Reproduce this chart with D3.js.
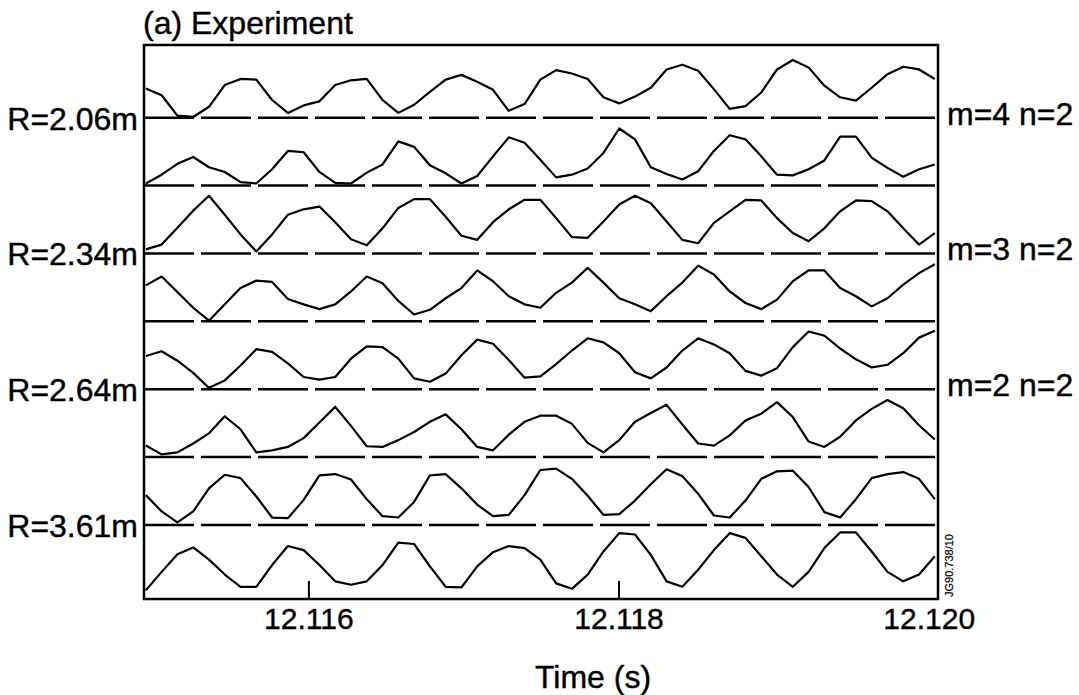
<!DOCTYPE html>
<html>
<head>
<meta charset="utf-8">
<script src="https://cdn.jsdelivr.net/npm/d3@7"></script>
<style>
    body { margin: 0; background: #fff; }
    text { font-family: "Liberation Sans", Arial, Helvetica, sans-serif; fill: #000; stroke: #000; stroke-width: 0.4px; }
</style>
</head>
<body>
<div class="chart"></div>
<script>
// signals, one value per sample (height above the row's baseline, a.u.)
var trace1 = [4.3, 3.3, 0.3, 0.1, 1.6, 4.8, 5.7, 5.6, 2.6, 0.7, 1.8, 2.4, 4.8, 5.5, 5.7, 2.6, 0.7, 1.9, 3.8, 5.6, 6.3, 5.3, 4.1, 1.0, 2.0, 5.6,
              7.0, 6.5, 5.7, 3.0, 2.1, 3.1, 4.4, 7.1, 7.8, 6.9, 4.2, 1.3, 1.7, 3.7, 7.1, 8.5, 7.4, 4.7, 3.0, 2.5, 4.4, 6.4, 7.5, 7.1, 5.7];
var trace2 = [0.3, 1.6, 3.2, 4.2, 2.7, 2.0, 0.5, 0.3, 2.4, 5.1, 4.9, 2.0, 0.4, 0.3, 1.9, 3.1, 6.5, 5.7, 3.0, 1.8, 0.3, 1.4, 4.3, 7.1, 6.3, 3.8,
              1.2, 1.6, 2.5, 4.8, 8.4, 6.8, 2.7, 1.7, 0.9, 2.1, 5.1, 7.4, 6.8, 4.3, 1.6, 1.5, 2.4, 3.7, 7.2, 7.2, 4.1, 2.6, 1.3, 2.4, 3.1];
var trace3 = [0.6, 1.3, 3.8, 6.3, 8.5, 5.7, 2.8, 0.3, 2.8, 5.7, 6.5, 6.9, 4.6, 2.1, 1.2, 3.7, 6.7, 8.0, 8.0, 5.4, 2.6, 2.0, 4.6, 6.5, 7.9, 7.9,
              5.2, 2.4, 2.3, 4.7, 7.2, 8.5, 7.4, 4.7, 2.0, 1.5, 4.5, 6.2, 7.9, 7.8, 5.2, 3.0, 1.8, 3.7, 6.2, 7.8, 7.7, 6.2, 3.7, 1.3, 3.0];
var trace4 = [5.3, 6.6, 4.3, 2.0, 0.1, 2.5, 4.9, 6.0, 5.8, 3.3, 2.5, 1.8, 2.5, 4.4, 6.6, 5.6, 3.0, 1.0, 1.7, 3.4, 4.9, 7.5, 5.9, 3.7, 2.5, 2.0,
              4.2, 5.7, 7.9, 5.7, 3.4, 2.5, 1.5, 3.7, 5.7, 8.2, 6.9, 4.4, 2.7, 1.8, 3.2, 5.9, 7.5, 7.5, 4.9, 3.7, 2.2, 3.4, 5.4, 7.1, 8.4];
var trace5 = [4.9, 5.6, 4.2, 2.4, 0.2, 1.3, 3.5, 5.9, 5.5, 3.8, 1.8, 1.4, 1.8, 4.5, 6.3, 6.2, 4.5, 1.6, 1.1, 2.3, 5.0, 7.3, 6.7, 4.3, 1.7, 1.9,
              3.7, 5.7, 7.5, 6.9, 5.3, 2.5, 1.6, 3.2, 5.7, 7.5, 6.6, 5.3, 2.7, 2.0, 3.1, 6.2, 8.5, 7.9, 6.0, 4.4, 3.2, 3.6, 5.3, 7.6, 8.6];
var trace6 = [1.7, 0.4, 0.7, 2.0, 3.5, 6.0, 4.1, 0.7, 1.0, 1.5, 2.8, 5.1, 7.4, 4.6, 1.6, 1.5, 2.5, 3.7, 5.2, 6.3, 4.1, 1.5, 1.0, 3.3, 5.2, 6.1,
              6.1, 4.9, 2.1, 0.7, 2.5, 5.2, 6.5, 7.7, 4.8, 2.0, 1.7, 3.2, 5.4, 6.4, 8.1, 5.9, 2.3, 1.5, 3.0, 5.4, 7.1, 8.4, 7.2, 4.7, 2.6];
var trace7 = [4.4, 2.0, 0.4, 2.0, 5.4, 7.4, 6.9, 4.2, 1.1, 1.0, 3.7, 7.3, 7.5, 6.7, 3.8, 1.3, 1.1, 3.4, 7.3, 7.5, 5.4, 3.0, 1.3, 1.5, 4.4, 8.1,
              8.3, 6.8, 4.3, 1.5, 1.6, 3.6, 6.0, 8.2, 7.2, 4.6, 1.4, 1.1, 3.6, 6.8, 7.9, 8.0, 5.6, 1.9, 1.1, 3.8, 6.9, 7.5, 7.8, 6.8, 3.8];
var trace8 = [0.4, 3.1, 5.7, 6.7, 4.9, 2.7, 0.9, 0.9, 4.1, 6.9, 6.3, 4.1, 1.7, 1.2, 1.7, 4.1, 7.4, 7.2, 3.9, 0.9, 0.8, 3.9, 6.0, 6.9, 6.6, 4.9,
              1.4, 0.6, 2.7, 6.1, 8.8, 8.6, 5.6, 1.7, 0.9, 3.4, 6.3, 8.8, 8.1, 5.4, 2.7, 0.9, 3.1, 6.6, 8.9, 8.9, 6.1, 3.1, 1.7, 2.7, 5.4];

// sampling of the traces (s)
var t0 = 12.114952;
var dt = 0.00010175;

// vertical offset of each trace (rows spaced 10 a.u.)
var rowOffsets = [70, 60, 50, 40, 30, 20, 10, 0];

// labels
var radiusLabels = ["R=2.06m", "R=2.34m", "R=2.64m", "R=3.61m"];
var radiusRows = [0, 2, 4, 6];
var modeLabels = ["m=4 n=2", "m=3 n=2", "m=2 n=2"];
var modeRows = [0, 2, 4];
var timeTicks = [12.116, 12.118, 12.120];

var traces = [trace1, trace2, trace3, trace4, trace5, trace6, trace7, trace8];

// svg wrapper dimensions
var svgWidth = 1079;
var svgHeight = 695;

var margin = {
    top: 45,
    right: 141,
    bottom: 96,
    left: 144
};

var width = svgWidth - margin.left - margin.right;
var height = svgHeight - margin.top - margin.bottom;

var svg = d3.select(".chart")
    .append("svg")
    .attr("width", svgWidth)
    .attr("height", svgHeight)
    .style("background", "#fff");

var chartGroup = svg.append("g")
    .attr("transform", `translate(${margin.left}, ${margin.top})`);

// scales
var xScale = d3.scaleLinear()
    .domain([12.11494, 12.12006])
    .range([0, width]);

var yScale = d3.scaleLinear()
    .domain([-0.9, 80.7])
    .range([height, 0]);

// dashed baselines between the traces
chartGroup.selectAll("line.base")
    .data(rowOffsets.slice(0, 7))
    .enter()
    .append("line")
    .attr("class", "base")
    .attr("x1", 0)
    .attr("x2", width)
    .attr("y1", d => yScale(d))
    .attr("y2", d => yScale(d))
    .attr("stroke", "#000")
    .attr("stroke-width", 2.5)
    .attr("stroke-dasharray", "50,7");

// traces
traces.forEach(function(values, row) {
    var line = d3.line()
        .x((d, i) => xScale(t0 + i * dt))
        .y(d => yScale(rowOffsets[row] + d));

    chartGroup.append("path")
        .datum(values)
        .attr("d", line)
        .attr("fill", "none")
        .attr("stroke", "#000")
        .attr("stroke-width", 2.2)
        .attr("stroke-linejoin", "round");
});

// frame
chartGroup.append("rect")
    .attr("x", 0)
    .attr("y", 0)
    .attr("width", width)
    .attr("height", height)
    .attr("fill", "none")
    .attr("stroke", "#000")
    .attr("stroke-width", 2.5);

// x axis, ticks pointing inwards
var bottomAxis = d3.axisBottom(xScale)
    .tickValues(timeTicks)
    .tickFormat(d3.format(".3f"))
    .tickSizeInner(-18)
    .tickSizeOuter(0)
    .tickPadding(9);

var xAxis = chartGroup.append("g")
    .attr("transform", `translate(0, ${height})`)
    .call(bottomAxis);

xAxis.select(".domain").remove();
xAxis.attr("font-size", 30).attr("font-family", null);
xAxis.selectAll(".tick line").attr("stroke-width", 2);
xAxis.selectAll(".tick line").filter((d, i) => i === timeTicks.length - 1).remove();

// row labels
chartGroup.selectAll("text.rlabel")
    .data(radiusLabels)
    .enter()
    .append("text")
    .attr("class", "rlabel")
    .attr("x", -6)
    .attr("y", (d, i) => yScale(rowOffsets[radiusRows[i]]) + 12)
    .attr("text-anchor", "end")
    .style("font-size", "32px")
    .text(d => d);

chartGroup.selectAll("text.mlabel")
    .data(modeLabels)
    .enter()
    .append("text")
    .attr("class", "mlabel")
    .attr("x", width + 9)
    .attr("y", (d, i) => yScale(rowOffsets[modeRows[i]]) + 7)
    .attr("text-anchor", "start")
    .style("font-size", "32px")
    .text(d => d);

// title
svg.append("text")
    .attr("x", 143)
    .attr("y", 34)
    .style("font-size", "32px")
    .text("(a) Experiment");

// axis title
svg.append("text")
    .attr("x", 593)
    .attr("y", 688)
    .attr("text-anchor", "middle")
    .style("font-size", "32px")
    .text("Time (s)");

// figure reference number
svg.append("text")
    .attr("transform", `translate(953, 597) rotate(-90)`)
    .style("font-size", "11px")
    .style("stroke-width", "0.2px")
    .text("JG90.738/10");
</script>
</body>
</html>
